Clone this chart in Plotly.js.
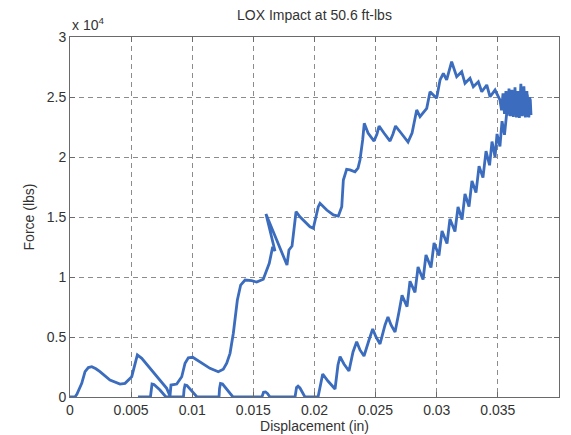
<!DOCTYPE html>
<html>
<head>
<meta charset="utf-8">
<script src="https://cdn.plot.ly/plotly-3.0.1.min.js"></script>
<style>
  html, body { margin: 0; padding: 0; background: #ffffff; }
  #chart { width: 571px; height: 435px; }
</style>
</head>
<body>
<div id="chart"></div>
<script>
// Loading branch: displacement (in) and force (lbs) while the striker drives in
const loadX = [0, 0.00041, 0.00057, 0.00096, 0.00123, 0.00150, 0.00178, 0.00212, 0.00245, 0.00327, 0.00409, 0.00450, 0.00505,
  0.00532, 0.00551, 0.00587, 0.00654, 0.00736, 0.00791, 0.00818, 0.00826, 0.00873, 0.00914, 0.00941, 0.00968,
  0.01004, 0.01063, 0.01145, 0.01213, 0.01254, 0.01282, 0.01309, 0.01336, 0.01369, 0.01396, 0.01432, 0.01486,
  0.01527, 0.01581, 0.01609, 0.01630, 0.01658, 0.01677, 0.01603, 0.01775, 0.01791, 0.01816, 0.01849, 0.01881,
  0.01963, 0.01990, 0.02031, 0.02045, 0.02100, 0.02154, 0.02195, 0.02223, 0.02236, 0.02263, 0.02290, 0.02331,
  0.02356, 0.02372, 0.02394, 0.02407, 0.02438, 0.02487, 0.02511, 0.02528, 0.02568, 0.02618, 0.02642, 0.02663,
  0.02708, 0.02765, 0.02798, 0.02836, 0.02863, 0.02918, 0.02945, 0.02999, 0.03027, 0.03054, 0.03081, 0.03122,
  0.03163, 0.03204, 0.03231, 0.03272, 0.03299, 0.03340, 0.03368, 0.03409, 0.03436, 0.03477, 0.03517];
const loadY = [0, 0, 250, 1140, 2110, 2450, 2520, 2350, 2110, 1420, 1080, 1140, 1690,
  2810, 3500, 3220, 2390, 1420, 720, 80, 1000, 1080, 1690, 2810, 3270,
  3310, 2940, 2390, 2110, 2310, 2810, 3640, 5310, 8080, 9330, 9750, 9690,
  9580, 9810, 10580, 11140, 12520, 12170, 15250, 11000, 12250, 12580, 15440, 15020,
  14190, 14060, 15860, 16140, 15580, 15170, 15080, 15860, 18080, 18970, 18920, 18770,
  19080, 19750, 21420, 22810, 22000, 21330, 21920, 22580, 22000, 21330, 21920, 22580,
  22000, 21250, 22000, 23920, 23360, 24060, 25440, 24890, 26420, 26970, 26420, 27940,
  26690, 27110, 26140, 26560, 25860, 26270, 25440, 26000, 25020, 25580, 24750];

// Ringing at maximum penetration
const peakX = [0.03530, 0.03542, 0.03554, 0.03566, 0.03578, 0.03591, 0.03603, 0.03615, 0.03627, 0.03640,
  0.03652, 0.03664, 0.03676, 0.03688, 0.03700, 0.03713, 0.03725, 0.03737, 0.03749, 0.03761, 0.03771,
  0.03765, 0.03753, 0.03741, 0.03729, 0.03717, 0.03704, 0.03692, 0.03680, 0.03668, 0.03656, 0.03644,
  0.03631, 0.03619, 0.03607, 0.03595, 0.03583];
const peakY = [23900, 25300, 23600, 25500, 23450, 25700, 23400, 25600, 23350, 25800,
  23300, 25500, 23250, 26100, 23400, 25900, 23300, 25500, 23350, 25000, 23500,
  24800, 23300, 25200, 23450, 25000, 23600, 25300, 23500, 24900, 23600, 25100,
  23700, 24800, 23600, 24600, 23700];

// Unloading branch back down to zero force
const unloadX = [0.03575, 0.03554, 0.03534, 0.03517, 0.03493, 0.03477, 0.03452, 0.03432, 0.03403, 0.03378,
  0.03346, 0.03321, 0.03288, 0.03264, 0.03231, 0.03207, 0.03174, 0.03149, 0.03108, 0.03084, 0.03043,
  0.03018, 0.02978, 0.02953, 0.02912, 0.02888, 0.02847, 0.02822, 0.02781, 0.02757, 0.02716, 0.02691,
  0.02659, 0.02626, 0.02601, 0.02577, 0.02536, 0.02503, 0.02476, 0.02446, 0.02405, 0.02372, 0.02345,
  0.02315, 0.02282, 0.02241, 0.02209, 0.02192, 0.02168, 0.02110, 0.02067, 0.02049, 0.02029];
const unloadY = [23920, 21850, 22980, 20890, 21920, 20000, 21290, 19310, 20490, 18280,
  19240, 17030, 18010, 15870, 16920, 14790, 15830, 13790, 14830, 12790, 13830,
  11790, 12830, 10790, 11830, 9790, 10830, 8720, 9650, 7530, 8470, 7080,
  5420, 6000, 6670, 6000, 4420, 5000, 5670, 4750, 3420, 3920, 4610,
  3750, 2170, 2750, 3360, 2670, 670, 1330, 1920, 1000, 0];

// Rebound along zero force with small bounces
const reboundX = [0.01922, 0.01881, 0.01865, 0.01853, 0.01841, 0.01636, 0.01615, 0.01599, 0.01583, 0.01570,
  0.01333, 0.01284, 0.01248, 0.01231, 0.01223, 0.01219, 0.01039, 0.00990, 0.00957, 0.00941, 0.00933,
  0.00928, 0.00785, 0.00736, 0.00687, 0.00671, 0.00663, 0.00658, 0.00556];
const reboundY = [0, 750, 900, 800, 0, 0, 300, 420, 400, 0,
  0, 670, 1080, 1120, 700, 0, 0, 580, 960, 1000, 600,
  0, 0, 580, 1040, 1080, 600, 0, 0];

// Axis ticks (force shown in units of 10^4 lbs)
const xTicks = [0, 0.005, 0.01, 0.015, 0.02, 0.025, 0.03, 0.035, 0.04];
const xTickText = ['0', '0.005', '0.01', '0.015', '0.02', '0.025', '0.03', '0.035', '0.04'];
const yTicks = [0, 5000, 10000, 15000, 20000, 25000, 30000];
const yTickText = ['0', '0.5', '1', '1.5', '2', '2.5', '3'];

const xs = loadX.concat(peakX, unloadX, reboundX);
const ys = loadY.concat(peakY, unloadY, reboundY);

const font = 'Liberation Sans, Arial, Helvetica, sans-serif';
const textColor = '#333333';

const axisBase = {
  showgrid: true,
  gridcolor: '#8c8c8c',
  gridwidth: 1,
  griddash: '5px,4px',
  showline: true,
  linecolor: '#6a6a6a',
  linewidth: 1,
  mirror: 'ticks',
  ticks: 'inside',
  ticklen: 5,
  tickcolor: '#6a6a6a',
  zeroline: false,
  tickfont: { family: font, size: 14, color: textColor },
  fixedrange: true
};

const trace = {
  x: xs,
  y: ys,
  type: 'scatter',
  mode: 'lines',
  line: { color: '#3b6cbd', width: 2.8 },
  hoverinfo: 'skip'
};

const layout = {
  width: 571,
  height: 435,
  margin: { l: 70, r: 12, t: 37, b: 38, pad: 0 },
  paper_bgcolor: '#ffffff',
  plot_bgcolor: '#ffffff',
  showlegend: false,
  title: {
    text: 'LOX Impact at 50.6 ft-lbs',
    font: { family: font, size: 14, color: textColor },
    x: 0.5, xref: 'paper', xanchor: 'center',
    y: 1 - 15 / 435, yref: 'container', yanchor: 'middle'
  },
  xaxis: Object.assign({}, axisBase, {
    range: [0, 0.04],
    tickmode: 'array',
    tickvals: xTicks,
    ticktext: xTickText,
    title: { text: 'Displacement (in)', font: { family: font, size: 14, color: textColor }, standoff: 4 }
  }),
  yaxis: Object.assign({}, axisBase, {
    range: [0, 30000],
    tickmode: 'array',
    tickvals: yTicks,
    ticktext: yTickText,
    title: { text: 'Force (lbs)', font: { family: font, size: 14, color: textColor }, standoff: 8 }
  }),
  annotations: [{
    text: 'x 10<sup>4</sup>',
    xref: 'paper', yref: 'paper',
    x: 0, y: 1,
    xanchor: 'left', yanchor: 'bottom',
    xshift: 0, yshift: 2,
    showarrow: false,
    font: { family: font, size: 14, color: textColor }
  }]
};

Plotly.newPlot('chart', [trace], layout, { displayModeBar: false, staticPlot: true });
</script>
</body>
</html>
